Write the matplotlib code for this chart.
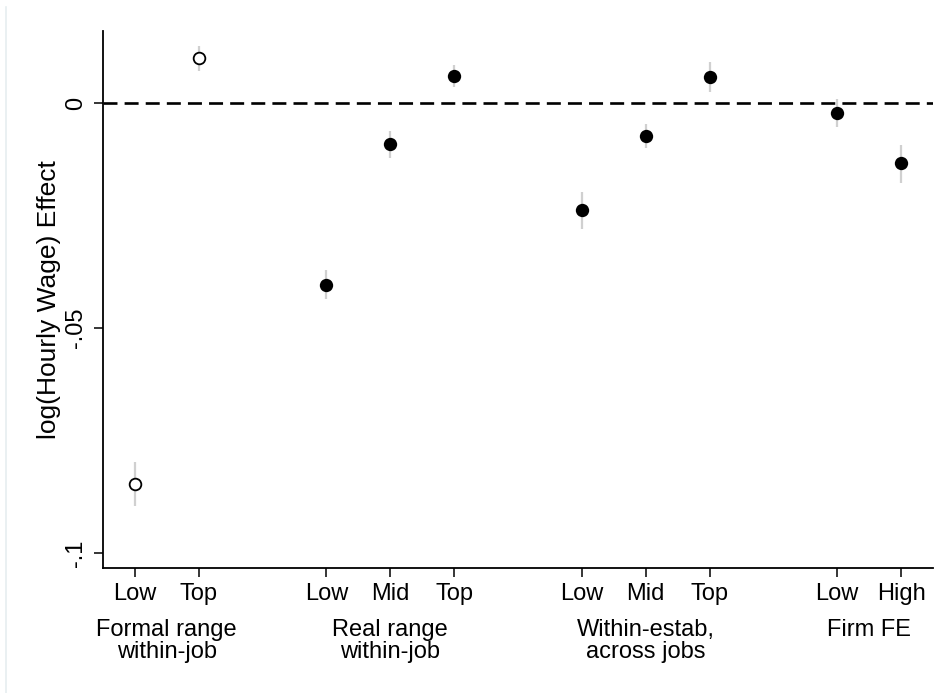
import matplotlib.pyplot as plt
import matplotlib.transforms as mtransforms
from matplotlib.lines import Line2D
import numpy as np

plt.rcParams['font.family'] = ['Liberation Sans', 'DejaVu Sans']

# groups of estimates along the x axis
group_names = ["Formal range\nwithin-job", "Real range\nwithin-job",
               "Within-estab,\nacross jobs", "Firm FE"]
group_sizes = [2, 3, 3, 2]
tick_labels = ["Low", "Top", "Low", "Mid", "Top", "Low", "Mid", "Top", "Low", "High"]

# point estimates and confidence bounds
estimates = [-0.0847, 0.0099, -0.0404, -0.0092, 0.0060, -0.0238, -0.0073, 0.0058, -0.0023, -0.0134]
ci_low = [-0.0896, 0.0072, -0.0436, -0.0123, 0.0036, -0.0281, -0.0099, 0.0025, -0.0053, -0.0177]
ci_high = [-0.0798, 0.0127, -0.0371, -0.0062, 0.0084, -0.0197, -0.0047, 0.0091, 0.0008, -0.0093]
hollow = [True, True, False, False, False, False, False, False, False, False]

# x positions: one slot per estimate, one empty slot between groups
pos = []
group_centers = []
start = 0
for n in group_sizes:
    xs = list(range(start, start + n))
    pos += xs
    group_centers.append(np.mean(xs))
    start += n + 1
pos = np.array(pos)

fig = plt.figure(figsize=(9.36, 6.93), dpi=100)
ax = fig.add_axes([0.110, 0.1804, 0.8868, 0.7749])

ax.axhline(0, color='black', lw=1.9, ls=(0, (5.3, 2.7)), zorder=1)

for x, e, lo, hi, h in zip(pos, estimates, ci_low, ci_high, hollow):
    ax.plot([x, x], [lo, hi], color='#d0d0d0', lw=1.6, zorder=2, solid_capstyle='butt')
    if h:
        ax.plot(x, e, 'o', ms=8.4, mfc='white', mec='black', mew=1.3, zorder=3)
    else:
        ax.plot(x, e, 'o', ms=9.6, mfc='black', mec='black', mew=0, zorder=3)

ax.set_xlim(-0.5, pos[-1] + 0.5)
ax.set_ylim(-0.1033, 0.016)

ax.set_yticks([0, -0.05, -0.1])
ax.set_yticklabels(["0", "-.05", "-.1"], rotation=90, va='center')
ax.set_xticks(pos)
ax.set_xticklabels(tick_labels)
ax.tick_params(axis='both', labelsize=17, length=6.5, width=1.1, colors='black')
ax.tick_params(axis='x', pad=4.5)
ax.tick_params(axis='y', pad=5)

ax.set_ylabel("log(Hourly Wage) Effect", fontsize=19, labelpad=3)

for s in ['top', 'right']:
    ax.spines[s].set_visible(False)
for s in ['left', 'bottom']:
    ax.spines[s].set_linewidth(1.3)

trans = mtransforms.blended_transform_factory(ax.transData, ax.transAxes)
for c, name in zip(group_centers, group_names):
    ax.text(c, -0.095, name, transform=trans, ha='center', va='top',
            fontsize=17, linespacing=1.02)

# faint border of the graph region
fig.add_artist(Line2D([0.0069, 0.0069], [0.0, 0.99], color='#e6eef0', lw=1.2))

fig.savefig("out.png", dpi=100)
